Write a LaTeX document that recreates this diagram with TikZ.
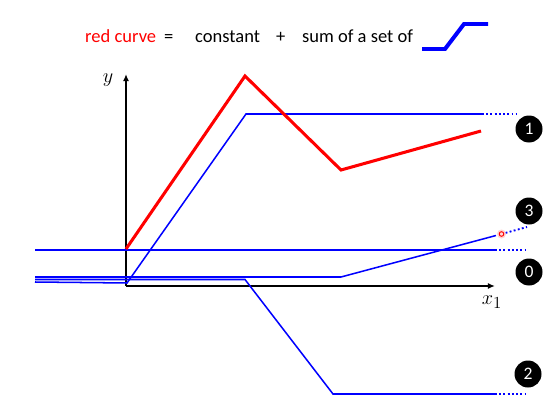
\documentclass[tikz,border=0pt]{standalone}
\usepackage{fontspec}
\setmainfont{Carlito}
\usetikzlibrary{positioning, arrows.meta}

\begin{document}
\begin{tikzpicture}[x=0.03cm, y=-0.03cm,
    axis/.style={draw=black, line width=1.4pt, -{Latex[length=6pt, width=5pt]}},
    redline/.style={draw=red, line width=2.6pt},
    blueline/.style={draw=blue, line width=1.3pt},
    dotline/.style={draw=blue, line width=1.6pt, dash pattern=on 1.6pt off 2pt},
    badge/.style={circle, fill=black, text=white, minimum size=0.81cm,
                  inner sep=0pt, font=\fontsize{15}{15}\selectfont},
    title/.style={anchor=base west, inner sep=0pt,
                  font=\fontsize{15.8}{18}\selectfont}
]
  \useasboundingbox (0,0) rectangle (550,419);

  % title line
  \node[title, text=red] (red) at (85,42.5) {red curve};
  \node[title] (eq) at (164,42.5) {=};
  \node[title] (const) at (195,42.5) {constant};
  \node[title] (plus) at (276,42.5) {+};
  \node[title] (sum) at (302,42.5) {sum of a set of};
  \coordinate (s0) at (422,49);
  \coordinate (s1) at (445,49);
  \coordinate (s2) at (464,24);
  \coordinate (s3) at (488,24);
  \draw[blue, line width=3.4pt] (s0) -- (s1) -- (s2) -- (s3);

  % axes
  \coordinate (o) at (126,286);
  \coordinate (xe) at (495,286);
  \coordinate (ye) at (126,74);
  \draw[axis] (o) -- (xe);
  \draw[axis] (o) -- (ye);
  \node[font=\fontsize{19}{21}\selectfont] (ylab) at (108,80) {$y$};
  \node[font=\fontsize{19}{21}\selectfont] (xlab) at (492,302) {$x_1$};

  % curve 0
  \coordinate (a0) at (35,250);
  \coordinate (a1) at (495,250);
  \coordinate (a2) at (528,250);
  \draw[blueline] (a0) -- (a1);
  \draw[dotline] (a1) -- (a2);

  % curve 1
  \coordinate (b0) at (35,282);
  \coordinate (b1) at (127,283);
  \coordinate (b2) at (246,114);
  \coordinate (b3) at (482,114);
  \coordinate (b4) at (517,114);
  \draw[blueline] (b0) -- (b1) -- (b2) -- (b3);
  \draw[dotline] (b3) -- (b4);

  % curve 2
  \coordinate (c0) at (35,279.5);
  \coordinate (c1) at (245,279.5);
  \coordinate (c2) at (333,394);
  \coordinate (c3) at (495,394);
  \coordinate (c4) at (528,394);
  \draw[blueline] (c0) -- (c1) -- (c2) -- (c3);
  \draw[dotline] (c3) -- (c4);

  % curve 3
  \coordinate (d0) at (35,277);
  \coordinate (d1) at (341,277);
  \coordinate (d2) at (496,235.5);
  \coordinate (d3) at (501.5,234);
  \coordinate (d4) at (527,227);
  \draw[blueline] (d0) -- (d1) -- (d2);
  \draw[dotline] (d3) -- (d4);
  \fill[red!25, opacity=0.7] (d3) circle (4.5);
  \draw[red, line width=0.8pt, fill=red!15] (d3) circle (2.3);

  % red curve
  \coordinate (r0) at (126,249);
  \coordinate (r1) at (245,76);
  \coordinate (r2) at (341,170);
  \coordinate (r3) at (481,131);
  \draw[redline] (r0) -- (r1) -- (r2) -- (r3);

  % badges
  \node[badge] (n1) at (529,129) {1};
  \node[badge] (n3) at (529,211) {3};
  \node[badge] (n0) at (529,272) {0};
  \node[badge] (n2) at (528,374) {2};
\end{tikzpicture}
\end{document}
